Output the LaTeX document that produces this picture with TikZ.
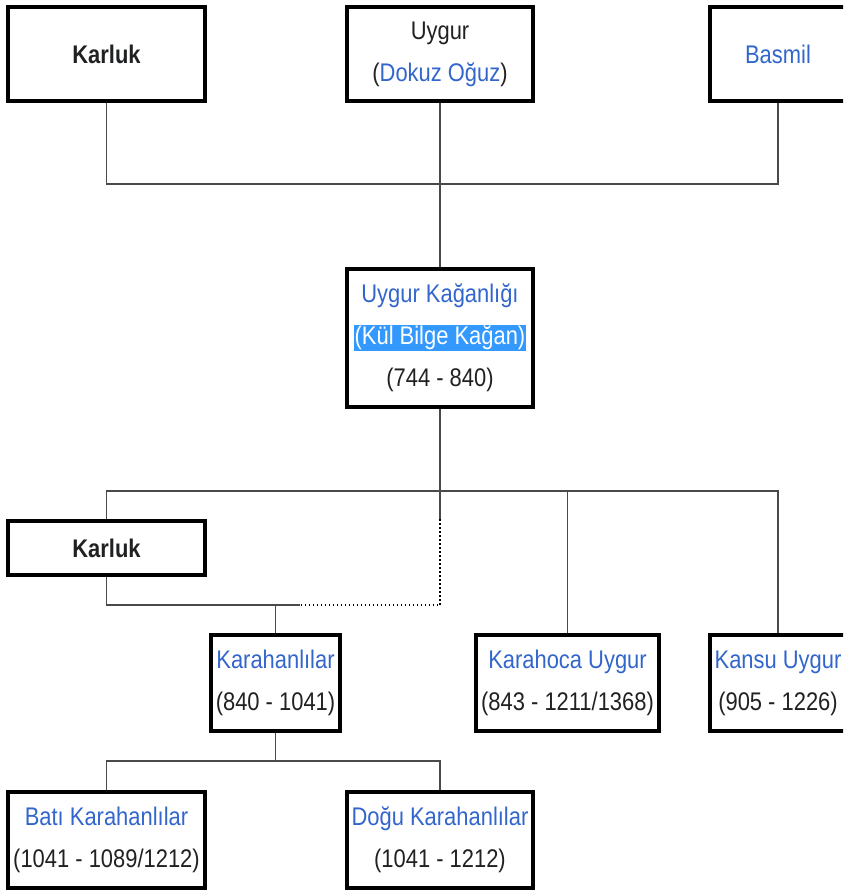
\documentclass[tikz,border=0pt]{standalone}
\usepackage{fontspec}
\setmainfont{Liberation Sans}[FakeStretch=0.86]
\definecolor{txt}{HTML}{202122}
\definecolor{lnk}{HTML}{3366CC}
\definecolor{sel}{RGB}{51,153,255}
\definecolor{conn}{HTML}{4A4A4A}
\begin{document}
\begin{tikzpicture}[x=1pt,y=-1pt,
  box/.style={draw=black, line width=4pt, fill=white, rectangle, inner sep=0pt,
    align=center, text=txt, font=\fontsize{25.5}{42}\selectfont},
  conn/.style={draw=conn, line width=1.2pt},
  dotline/.style={draw=black, line width=1.2pt, dash pattern=on 1.5pt off 2.5pt}]
\useasboundingbox (0,0) rectangle (843,890);
\fill[white] (0,0) rectangle (843,890);
\clip (0,0) rectangle (843,890);
% top row
\node[box, minimum width=197pt, minimum height=94pt] (karlukA) at (106.5,54) {\textbf{Karluk}};
\node[box, minimum width=186pt, minimum height=94pt] (uygur) at (440,54) {Uygur\\(\textcolor{lnk}{Dokuz Oğuz})};
\node[box, minimum width=136pt, minimum height=94pt] (basmil) at (778,54) {\textcolor{lnk}{Basmil}};
% middle
\node[box, minimum width=186pt, minimum height=138pt] (kagan) at (440,338)
  {\textcolor{lnk}{Uygur Kağanlığı}\\{\setlength{\fboxsep}{1pt}\colorbox{sel}{\textcolor{white}{(Kül Bilge Kağan)}}}\\(744 - 840)};
\node[box, minimum width=197pt, minimum height=54pt] (karlukB) at (106.5,548) {\textbf{Karluk}};
% third row
\node[box, minimum width=129pt, minimum height=96pt] (karahan) at (275.5,683) {\textcolor{lnk}{Karahanlılar}\\(840 - 1041)};
\node[box, minimum width=183pt, minimum height=96pt] (karahoca) at (567.5,683) {\textcolor{lnk}{Karahoca Uygur}\\(843 - 1211/1368)};
\node[box, minimum width=136pt, minimum height=96pt] (kansu) at (778,683) {\textcolor{lnk}{Kansu Uygur}\\(905 - 1226)};
% bottom row
\node[box, minimum width=197pt, minimum height=96pt] (bati) at (106.5,840) {\textcolor{lnk}{Batı Karahanlılar}\\(1041 - 1089/1212)};
\node[box, minimum width=186pt, minimum height=96pt] (dogu) at (440,840) {\textcolor{lnk}{Doğu Karahanlılar}\\(1041 - 1212)};
% junctions
\coordinate (j1) at (440,184);
\coordinate (j2) at (440,491);
\coordinate (j3) at (440,519);
\coordinate (j4) at (300,605);
\coordinate (j5) at (440,605);
\coordinate (j6) at (275.5,605);
\coordinate (j7) at (275.5,761);
% connectors
\draw[conn] (karlukA.south) |- (j1) -| (basmil.south);
\draw[conn] (uygur.south) -- (kagan.north);
\draw[conn] (kagan.south) -- (j3);
\draw[conn] (karlukB.north) |- (j2) -| (kansu.north);
\draw[conn] (j2) -| (karahoca.north);
\draw[dotline] (j3) -- (j5) -- (j4);
\draw[conn] (karlukB.south) |- (j4);
\draw[conn] (j6) -- (karahan.north);
\draw[conn] (karahan.south) -- (j7);
\draw[conn] (bati.north) |- (j7) -| (dogu.north);
\end{tikzpicture}
\end{document}
